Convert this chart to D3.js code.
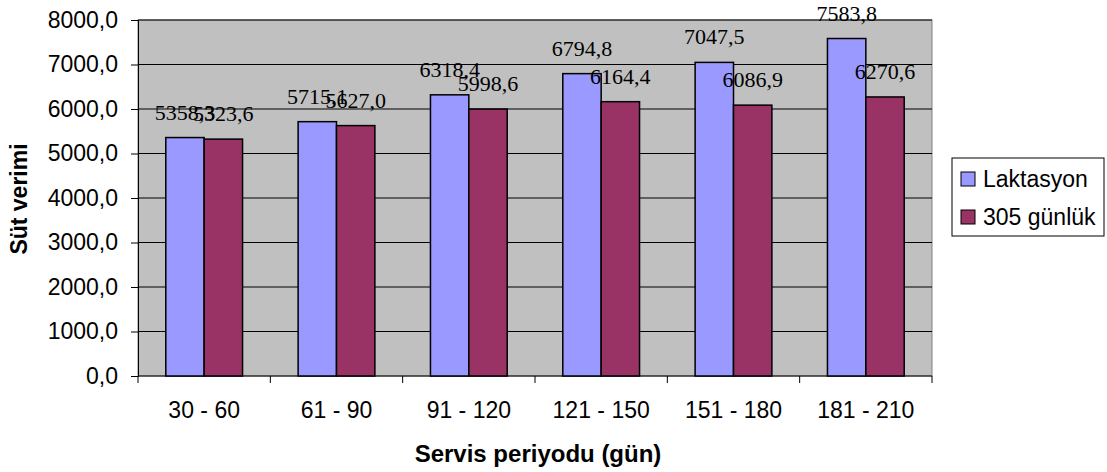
<!DOCTYPE html>
<html><head><meta charset="utf-8">
<script src="https://cdn.jsdelivr.net/npm/d3@7"></script>
<style>body{margin:0;background:#fff}svg{display:block}</style>
</head><body>
<script>
const categories = ["30 - 60","61 - 90","91 - 120","121 - 150","151 - 180","181 - 210"];
const seriesNames = ["Laktasyon","305 günlük"];
const laktasyon = [5358.3,5715.1,6318.4,6794.8,7047.5,7583.8];
const gunluk305 = [5323.6,5627.0,5998.6,6164.4,6086.9,6270.6];
const yTicks = [0,1000,2000,3000,4000,5000,6000,7000,8000];
const colors = ["#9999ff","#993366"];

const W=1107,H=472;
const L=138,R=932,T=20,B=376;
const ARIAL="Arial, 'Liberation Sans', sans-serif";
const svg=d3.select("body").append("svg").attr("width",W).attr("height",H);
const fmt=v=>d3.format(".1f")(v).replace(".",",");

const y=d3.scaleLinear().domain([0,8000]).range([B,T]);
const x0=d3.scaleBand().domain(categories).range([L,R]).paddingInner(0.42).paddingOuter(0.21);
const x1=d3.scaleBand().domain(seriesNames).range([0,x0.bandwidth()]);

svg.append("rect").attr("x",L).attr("y",T).attr("width",R-L).attr("height",B-T).attr("fill","#c0c0c0").attr("stroke","#808080").attr("stroke-width",1);

// gridlines
svg.append("g").selectAll("line").data(yTicks.slice(1)).join("line")
 .attr("x1",L).attr("x2",R).attr("y1",d=>y(d)).attr("y2",d=>y(d))
 .attr("stroke","#000").attr("stroke-width",1);

// y axis
const ya=svg.append("g").attr("transform",`translate(${L},0)`)
 .call(d3.axisLeft(y).tickValues(yTicks).tickFormat(fmt).tickSize(7).tickPadding(13));
ya.select(".domain").attr("stroke","#000");
ya.selectAll("text").attr("font-family",ARIAL).attr("font-size","23px").attr("fill","#000");

// x axis
const xa=svg.append("g").attr("transform",`translate(0,${B})`);
xa.append("line").attr("x1",L).attr("x2",R).attr("y1",0).attr("y2",0).attr("stroke","#000");
xa.selectAll("line.t").data(d3.range(categories.length+1)).join("line").attr("class","t")
 .attr("x1",i=>L+i*x0.step()).attr("x2",i=>L+i*x0.step()).attr("y1",0).attr("y2",7).attr("stroke","#000");
xa.selectAll("text").data(categories).join("text")
 .attr("x",d=>x0(d)+x0.bandwidth()/2).attr("y",42).attr("text-anchor","middle")
 .attr("font-family",ARIAL).attr("font-size","23px").text(d=>d);

const data=categories.map((c,i)=>({c,vals:[laktasyon[i],gunluk305[i]]}));
const g=svg.append("g");
data.forEach(d=>{
  d.vals.forEach((v,j)=>{
    const xx=x0(d.c)+x1(seriesNames[j]);
    g.append("rect").attr("x",xx).attr("y",y(v)).attr("width",x1.bandwidth()).attr("height",B-y(v))
      .attr("fill",colors[j]).attr("stroke","#000").attr("stroke-width",1.5);
  });
});
data.forEach(d=>{
  d.vals.forEach((v,j)=>{
    const xx=x0(d.c)+x1(seriesNames[j])+x1.bandwidth()/2;
    g.append("text").attr("x",xx).attr("y",y(v)-18).attr("text-anchor","middle")
      .attr("font-family","'Times New Roman','Liberation Serif',serif").attr("font-size","22px").text(fmt(v));
  });
});

// axis titles
svg.append("text").attr("x",538).attr("y",462).attr("text-anchor","middle")
 .attr("font-family",ARIAL).attr("font-weight","bold").attr("font-size","24px").text("Servis periyodu (gün)");
svg.append("text").attr("transform",`translate(27,${(T+B)/2+1}) rotate(-90)`).attr("text-anchor","middle")
 .attr("font-family",ARIAL).attr("font-weight","bold").attr("font-size","23px").text("Süt verimi");

// legend
const lg=svg.append("g");
lg.append("rect").attr("x",952).attr("y",158).attr("width",152).attr("height",78).attr("fill","#fff").attr("stroke","#000");
seriesNames.forEach((n,i)=>{
  const cy=179+i*38;
  lg.append("rect").attr("x",961).attr("y",cy-7).attr("width",14).attr("height",14).attr("fill",colors[i]).attr("stroke","#000");
  lg.append("text").attr("x",983).attr("y",cy+8).attr("font-family",ARIAL).attr("font-size","23px").text(n);
});
</script>
</body></html>
